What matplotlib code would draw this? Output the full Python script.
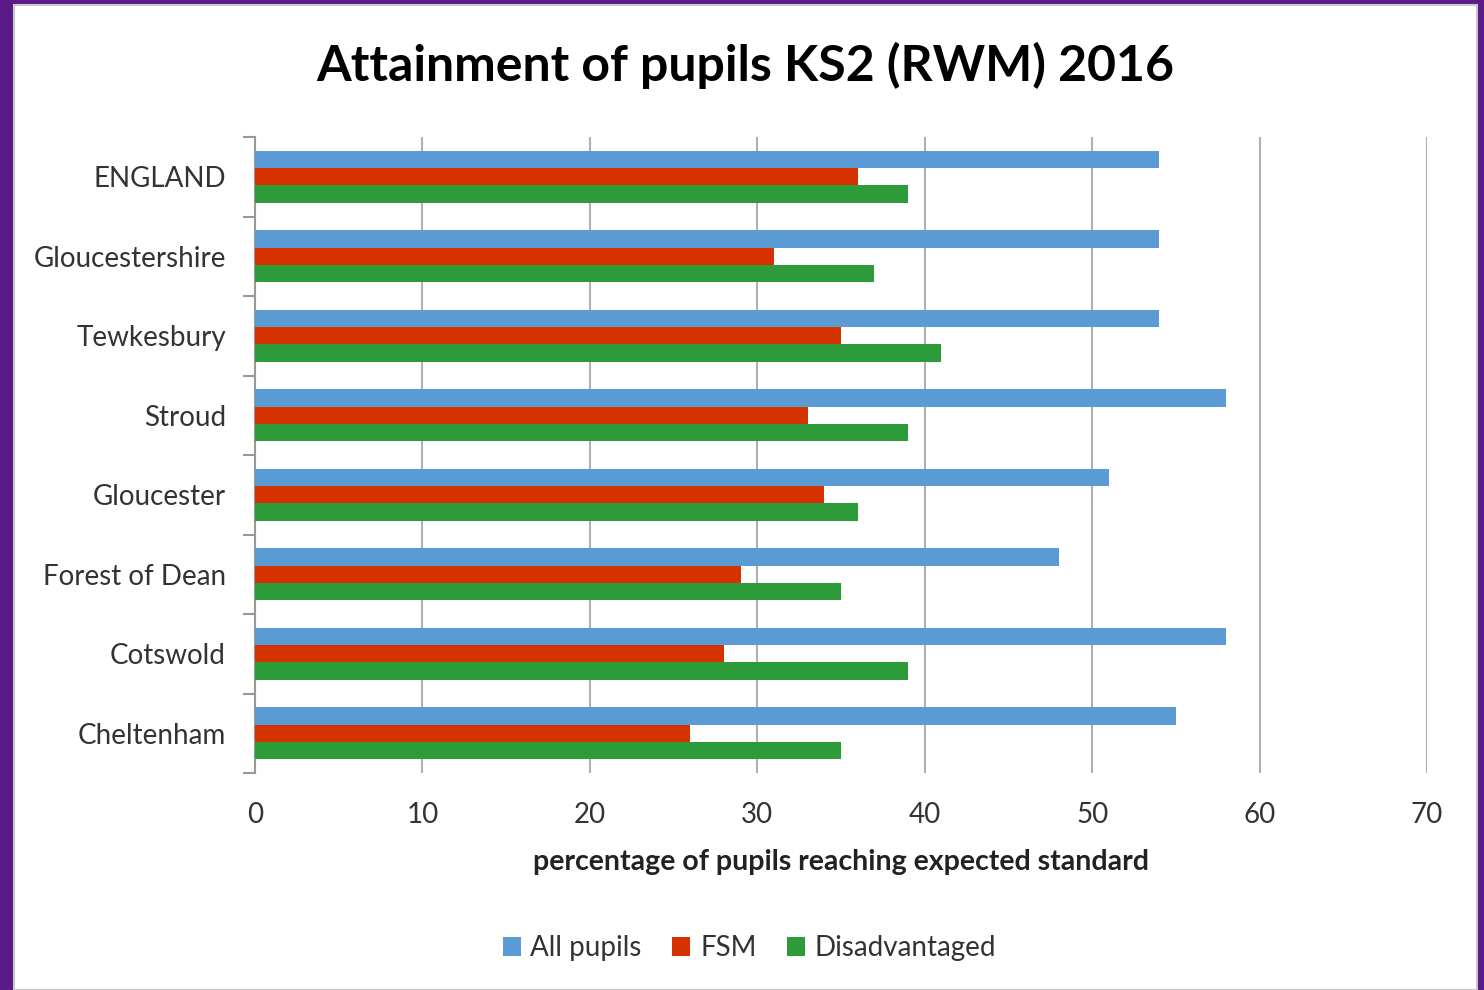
import numpy as np
import matplotlib.pyplot as plt
from matplotlib.patches import Rectangle

areas = ['ENGLAND', 'Gloucestershire', 'Tewkesbury', 'Stroud',
         'Gloucester', 'Forest of Dean', 'Cotswold', 'Cheltenham']
all_pupils = [54, 54, 54, 58, 51, 48, 58, 55]
fsm = [36, 31, 35, 33, 34, 29, 28, 26]
disadvantaged = [39, 37, 41, 39, 36, 35, 39, 35]

series = [('All pupils', all_pupils, '#5b9bd5'),
          ('FSM', fsm, '#d43300'),
          ('Disadvantaged', disadvantaged, '#2e9b3a')]

plt.rcParams['font.family'] = ['Lato', 'DejaVu Sans']
text_col = '#333333'

fig = plt.figure(figsize=(14.84, 9.9), dpi=100)
fig.patch.set_facecolor('#5a1a88')
# white slide panel
fig.patches.append(Rectangle((14 / 1484, 0), (1477 - 14) / 1484, 1 - 5 / 990,
                             transform=fig.transFigure, facecolor='white',
                             edgecolor='#c8c8c8', linewidth=1.5, zorder=-10))

ax = fig.add_axes([255 / 1484, 1 - 773 / 990, (1427 - 255) / 1484, (773 - 137) / 990])
ax.set_facecolor('none')

y = np.arange(len(areas))
h = 0.22
for i, (name, vals, col) in enumerate(series):
    ax.barh(y + (i - 1) * h, vals, height=h, color=col, label=name, zorder=3)

ax.set_xlim(0, 70)
ax.set_ylim(len(areas) - 0.5, -0.5)
ax.set_xticks(range(0, 71, 10))
ax.set_yticks(y)
ax.set_yticklabels(areas)
ax.set_yticks(np.arange(-0.5, len(areas)), minor=True)
ax.tick_params(axis='y', which='major', length=0, pad=21, labelsize=20, labelcolor=text_col)
ax.tick_params(axis='y', which='minor', length=9, color='#999999', width=1.5)
ax.tick_params(axis='x', length=0, pad=21, labelsize=20, labelcolor=text_col)
ax.grid(axis='x', color='#b0b0b0', linewidth=1.5, zorder=0)
for s in ['top', 'right', 'bottom']:
    ax.spines[s].set_visible(False)
ax.spines['left'].set_color('#999999')
ax.spines['left'].set_linewidth(1.5)

ax.set_xlabel('percentage of pupils reaching expected standard', fontsize=20.5,
              fontweight='bold', color='#222222', labelpad=15)

fig.text(0.502, 0.934, 'Attainment of pupils KS2 (RWM) 2016', ha='center', va='center',
         fontsize=36, fontweight='bold', color='black')

fig.legend(loc='center', bbox_to_anchor=(0.505, 0.042), ncol=3, frameon=False,
           fontsize=20, handlelength=0.65, handleheight=0.65, handletextpad=0.35,
           columnspacing=1.1, labelcolor=text_col)

fig.savefig('out.png', dpi=100, facecolor=fig.get_facecolor())
